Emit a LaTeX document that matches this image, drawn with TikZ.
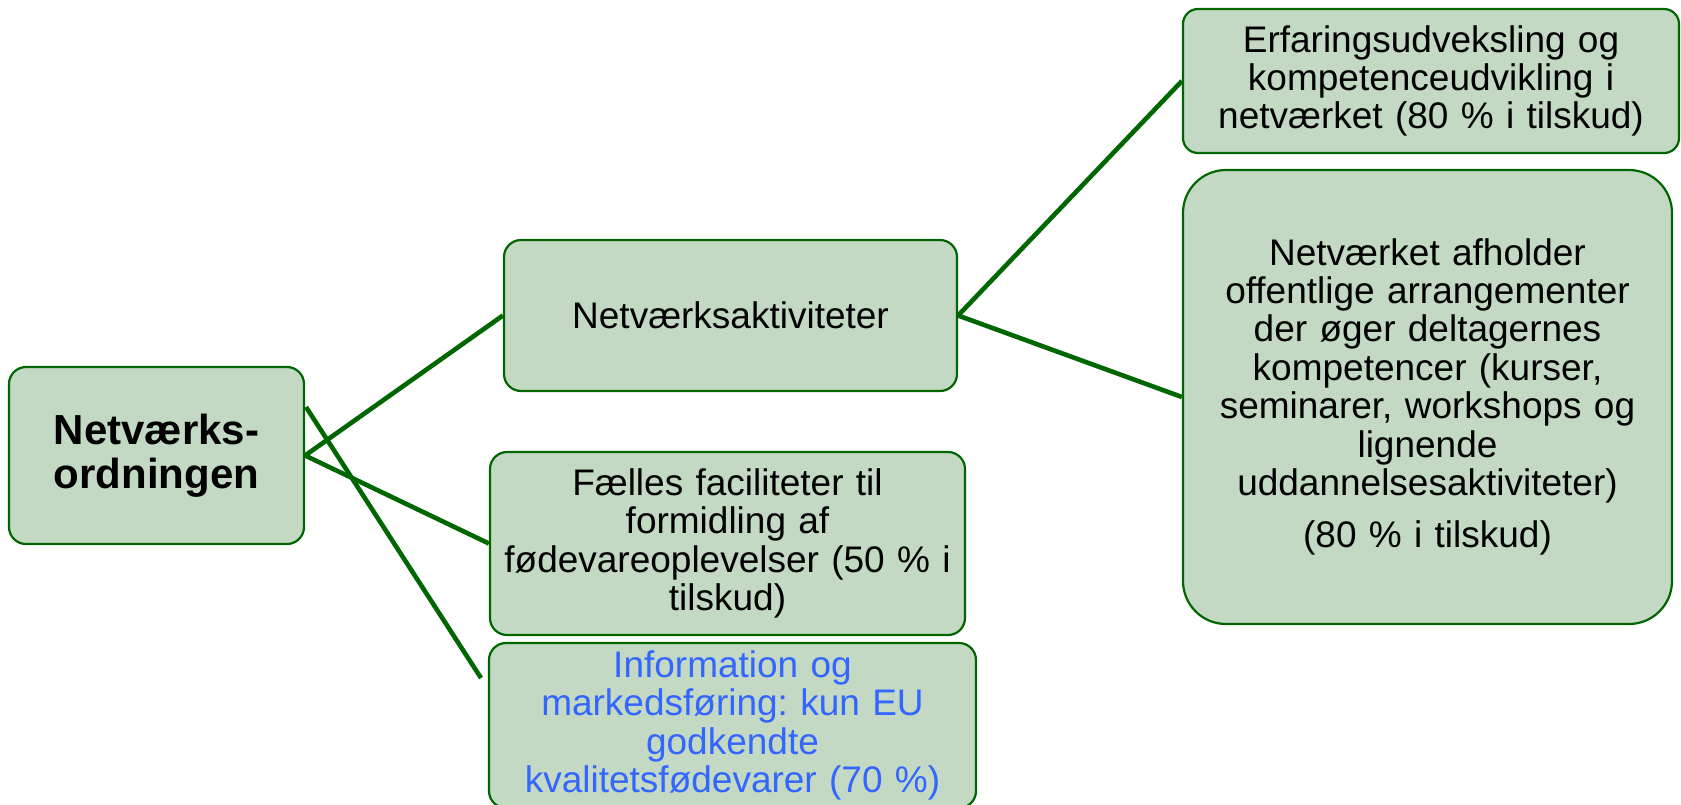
\documentclass[tikz,border=0pt]{standalone}
\usepackage{fontspec}
\setmainfont{Liberation Sans}
\definecolor{boxfill}{RGB}{195,217,195}
\definecolor{boxline}{RGB}{0,102,0}
\definecolor{infoblue}{RGB}{51,102,255}
\frenchspacing
\begin{document}
\begin{tikzpicture}[x=1pt,y=-1pt,
  box/.style={draw=boxline, fill=boxfill, line width=2.2pt, rounded corners=17pt,
    inner sep=0pt, align=center, font=\fontsize{37}{38.4}\selectfont},
  conn/.style={draw=boxline, line width=4.6pt}]
\useasboundingbox (0,0) rectangle (1681,804);
\node[box, minimum width=295pt, minimum height=177pt, text width=280pt,
  font=\bfseries\fontsize{42}{43.5}\selectfont] (root) at (156.5,455.5) {Netværks-\\ordningen};
\node[box, minimum width=453pt, minimum height=151pt, text width=440pt] (netakt) at (730.5,315.5) {Netværksaktiviteter};
\node[box, minimum width=475pt, minimum height=183pt, text width=465pt] (faelles) at (727.5,543.5)
  {Fælles faciliteter til\\formidling af\\fødevareoplevelser (50 \% i\\tilskud)};
\node[box, minimum width=487pt, minimum height=165pt, text width=475pt, text=infoblue] (info) at (732.5,725.5)
  {Information og\\markedsføring: kun EU\\godkendte\\kvalitetsfødevarer (70 \%)};
\node[box, rounded corners=15pt, minimum width=496pt, minimum height=144pt, text width=485pt] (erf) at (1431,81)
  {Erfaringsudveksling og\\kompetenceudvikling i\\netværket (80 \% i tilskud)};
\node[box, rounded corners=43pt, minimum width=489pt, minimum height=454pt, text width=475pt] (afh) at (1427.5,397)
  {Netværket afholder\\offentlige arrangementer\\der øger deltagernes\\kompetencer (kurser,\\seminarer, workshops og\\lignende\\uddannelsesaktiviteter)\\[14pt](80 \% i tilskud)};
\coordinate (freeA) at (306,407);
\coordinate (freeB) at (481,678);
\draw[conn] (root.east) -- (netakt.west);
\draw[conn] (root.east) -- (faelles.west);
\draw[conn] (freeA) -- (freeB);
\draw[conn] (netakt.east) -- (erf.west);
\draw[conn] (netakt.east) -- (afh.west);
\end{tikzpicture}
\end{document}
